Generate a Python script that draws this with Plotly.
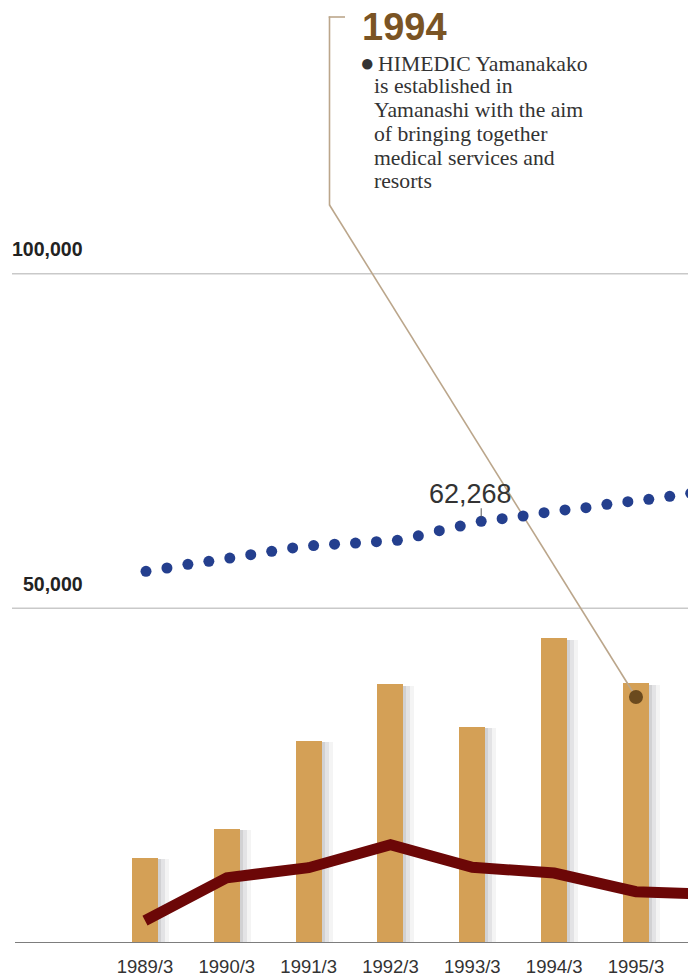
import plotly.graph_objects as go

# ---------------- data ----------------
categories = ["1989/3", "1990/3", "1991/3", "1992/3", "1993/3", "1994/3", "1995/3"]
bar_values = [12740, 17070, 30210, 38720, 32300, 45590, 38870]
line_categories = categories + ["1996/3"]
line_values = [3350, 9750, 11250, 14680, 11320, 10450, 7660, 7260]
# quarterly dotted series
dot_values = [55540, 56030, 56580, 57030, 57520, 58020, 58520, 59020, 59380,
              59580, 59760, 59960, 60170, 60840, 61600, 62300, 63010, 63400,
              63800, 64290, 64700, 65040, 65550, 65940, 66290, 66740, 67190]
dot_label_index = 16
dot_label_text = "62,268"
event_category = "1995/3"
event_value = 36750
event_year = "1994"
event_lines = ["HIMEDIC Yamanakako", "is established in", "Yamanashi with the aim",
               "of bringing together", "medical services and", "resorts"]
y_grid = [50000, 100000]
y_grid_labels = ["50,000", "100,000"]

# ---------------- geometry ----------------
W, H = 688, 976
B = 33
PLOT_H = H - B
Y_PER_PX = 149.41
YMAX = PLOT_H * Y_PER_PX
X0PX, XSTEP = 145, 81.83
D0PX, DSTEP = 146, 20.95
BAR_W = 26 / XSTEP

def px_x(px):
    return (px - X0PX) / XSTEP

def px_y(py):
    return (PLOT_H - py) * Y_PER_PX

def paper_x(px):
    return px / W

def paper_y(py):
    return (PLOT_H - py) / PLOT_H

BAR_C = "#d4a056"
RED = "#6c0707"
BLUE = "#243f8e"
TAN = "#bba68b"
BROWN = "#6b4a1e"
HEAD = "#7a5424"

xi = list(range(len(categories)))
fig = go.Figure()

# bar shadows (soft)
for off, w, op in [(6, 31, 0.06), (4, 29, 0.09), (2, 27, 0.11)]:
    fig.add_trace(go.Bar(
        x=xi, y=[v - 250 for v in bar_values], width=w / XSTEP,
        offset=-BAR_W / 2 + off / XSTEP,
        marker=dict(color="rgba(60,60,75,%s)" % op, line=dict(width=0)),
        hoverinfo="skip", showlegend=False))

fig.add_trace(go.Bar(
    x=xi, y=bar_values, width=BAR_W, offset=-BAR_W / 2,
    marker=dict(color=BAR_C, line=dict(width=0)), showlegend=False))

fig.add_trace(go.Scatter(
    x=list(range(len(line_categories))), y=line_values, mode="lines",
    line=dict(color=RED, width=11), showlegend=False))

# leader line diagonal
ev_i = categories.index(event_category)
fig.add_trace(go.Scatter(
    x=[px_x(329.5), ev_i], y=[px_y(205), event_value], mode="lines",
    line=dict(color=TAN, width=1.6), showlegend=False, hoverinfo="skip"))
fig.add_trace(go.Scatter(
    x=[ev_i], y=[event_value], mode="markers",
    marker=dict(color=BROWN, size=14), showlegend=False))

# dotted series on its own overlaying axis
fig.add_trace(go.Scatter(
    x=list(range(len(dot_values))), y=dot_values, mode="markers",
    marker=dict(color=BLUE, size=11), xaxis="x2", yaxis="y",
    showlegend=False))

shapes = []
for g in y_grid:
    shapes.append(dict(type="line", xref="paper", yref="y", x0=paper_x(12), x1=1,
                       y0=g, y1=g, line=dict(color="#c9c9c9", width=1.5), layer="below"))
shapes.append(dict(type="line", xref="paper", yref="y", x0=paper_x(15), x1=1,
                   y0=0, y1=0, line=dict(color="#7d7d7d", width=2)))
shapes.append(dict(type="line", xref="paper", yref="paper", x0=paper_x(329.5), x1=paper_x(329.5),
                   y0=paper_y(16.5), y1=paper_y(205.5), line=dict(color=TAN, width=1.6)))
shapes.append(dict(type="line", xref="paper", yref="paper", x0=paper_x(328.7), x1=paper_x(345),
                   y0=paper_y(17), y1=paper_y(17), line=dict(color=TAN, width=1.6)))
shapes.append(dict(type="line", xref="x2", yref="y", x0=dot_label_index, x1=dot_label_index,
                   ysizemode="pixel", yanchor=dot_values[dot_label_index], y0=4, y1=13,
                   line=dict(color="#555555", width=1)))

ann = []
for g, lab, cx, cy in zip(y_grid, y_grid_labels, [85, 85], [584, 249]):
    ann.append(dict(xref="paper", yref="paper", x=paper_x(cx), y=paper_y(cy), text=lab,
                    showarrow=False, xanchor="right", yanchor="middle",
                    font=dict(family="Liberation Sans", size=19.5, color="#222222", weight="bold")))
ann.append(dict(xref="x2", yref="y", x=dot_label_index, y=dot_values[dot_label_index],
                text=dot_label_text, showarrow=False, xanchor="center", yanchor="middle",
                xshift=-11, yshift=27,
                font=dict(family="Liberation Sans", size=27, color="#333333")))
ann.append(dict(xref="paper", yref="paper", x=paper_x(360), y=paper_y(26.5), text=event_year,
                showarrow=False, xanchor="left", yanchor="middle",
                font=dict(family="Liberation Sans", size=38, color=HEAD, weight="bold")))
baselines = [70.7, 94.3, 118.3, 141.7, 165.7, 189.3]
for k, (t, bl) in enumerate(zip(event_lines, baselines)):
    if k == 0:
        txt = ("<span style='font-size:24px'>●</span>"
               "<span style='font-size:14px'> </span>" + t)
        xpx = 358
    else:
        txt = t
        xpx = 372
    ann.append(dict(xref="paper", yref="paper", x=paper_x(xpx), y=paper_y(bl - 8), text=txt,
                    showarrow=False, xanchor="left", yanchor="middle",
                    font=dict(family="Liberation Serif", size=21.7, color="#333333")))

fig.update_layout(
    width=W, height=H, margin=dict(l=0, r=0, t=0, b=B, pad=0, autoexpand=False),
    paper_bgcolor="white", plot_bgcolor="white",
    barmode="overlay", bargap=0, showlegend=False,
    xaxis=dict(range=[px_x(0), px_x(W)], tickmode="array", tickvals=xi, ticktext=categories,
               showgrid=False, zeroline=False, showline=False, ticks="", automargin=False,
               ticklabelstandoff=10,
               tickfont=dict(family="Liberation Sans", size=18.5, color="#333333")),
    xaxis2=dict(overlaying="x", range=[(0 - D0PX) / DSTEP, (W - D0PX) / DSTEP], visible=False,
                automargin=False),
    yaxis=dict(range=[0, YMAX], showgrid=False, zeroline=False, showticklabels=False,
               automargin=False),
    shapes=shapes, annotations=ann,
)
fig.write_html("out.html", config={"displayModeBar": False},
               post_script="document.body.style.margin='0';document.body.style.overflow='hidden';")
